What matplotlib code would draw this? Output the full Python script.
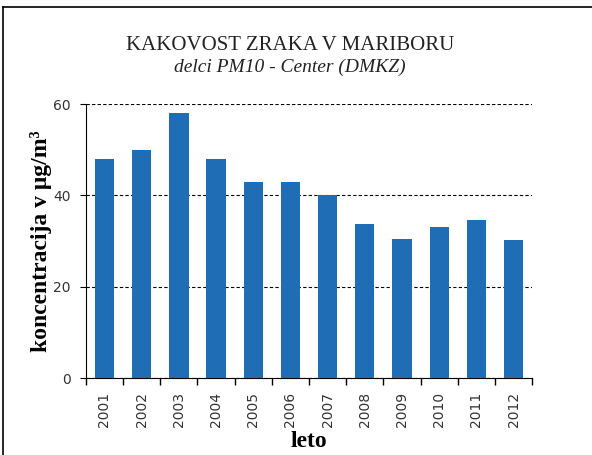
import matplotlib.pyplot as plt
from matplotlib.lines import Line2D

years = ['2001', '2002', '2003', '2004', '2005', '2006',
         '2007', '2008', '2009', '2010', '2011', '2012']
pm10 = [48, 50, 58, 48, 43, 43, 40, 33.7, 30.4, 33.1, 34.7, 30.2]

fig = plt.figure(figsize=(5.92, 4.55), dpi=100)
ax = fig.add_axes([0.145, 0.169, 0.754, 0.602])

x = range(len(years))
ax.bar(x, pm10, width=0.52, color='#1f6db5', zorder=3)

ax.set_xlim(-0.5, len(years) - 0.5)
ax.set_ylim(0, 60)
ax.set_yticks([0, 20, 40, 60])
ax.set_yticklabels(['0', '20', '40', '60'], fontsize=10, color='#333333')
ax.set_xticks(list(x))
ax.set_xticklabels(years, rotation=90, fontsize=10, color='#333333')
ax.tick_params(axis='x', length=0, pad=10)
ax.tick_params(axis='y', length=4, direction='out', pad=7)

# ticks between categories
ax.set_xticks([i - 0.5 for i in range(len(years) + 1)], minor=True)
ax.tick_params(axis='x', which='minor', length=5, direction='out', width=1)

ax.yaxis.grid(True, linestyle=(0, (3, 2)), color='black', linewidth=0.8, zorder=0)
ax.spines['top'].set_visible(False)
ax.spines['right'].set_visible(False)

ax.set_ylabel('koncentracija v μg/m³', fontsize=17, fontweight='bold',
              family='Liberation Serif', labelpad=1)
ax.set_xlabel('leto', fontsize=17, fontweight='bold', family='Liberation Serif', labelpad=3)

fig.text(0.49, 0.9, 'KAKOVOST ZRAKA V MARIBORU', ha='center', va='center',
         fontsize=15, family='Liberation Serif', color='#222222')
fig.text(0.49, 0.852, 'delci PM10 - Center (DMKZ)', ha='center', va='center',
         fontsize=14, family='Liberation Serif', style='italic', color='#222222')

# outer frame
fig.add_artist(Line2D([0.005, 0.005], [0, 0.985], color='black', linewidth=1.2,
                      transform=fig.transFigure))
fig.add_artist(Line2D([0.005, 1.0], [0.985, 0.985], color='black', linewidth=1.2,
                      transform=fig.transFigure))

fig.savefig('out.png', dpi=100)
